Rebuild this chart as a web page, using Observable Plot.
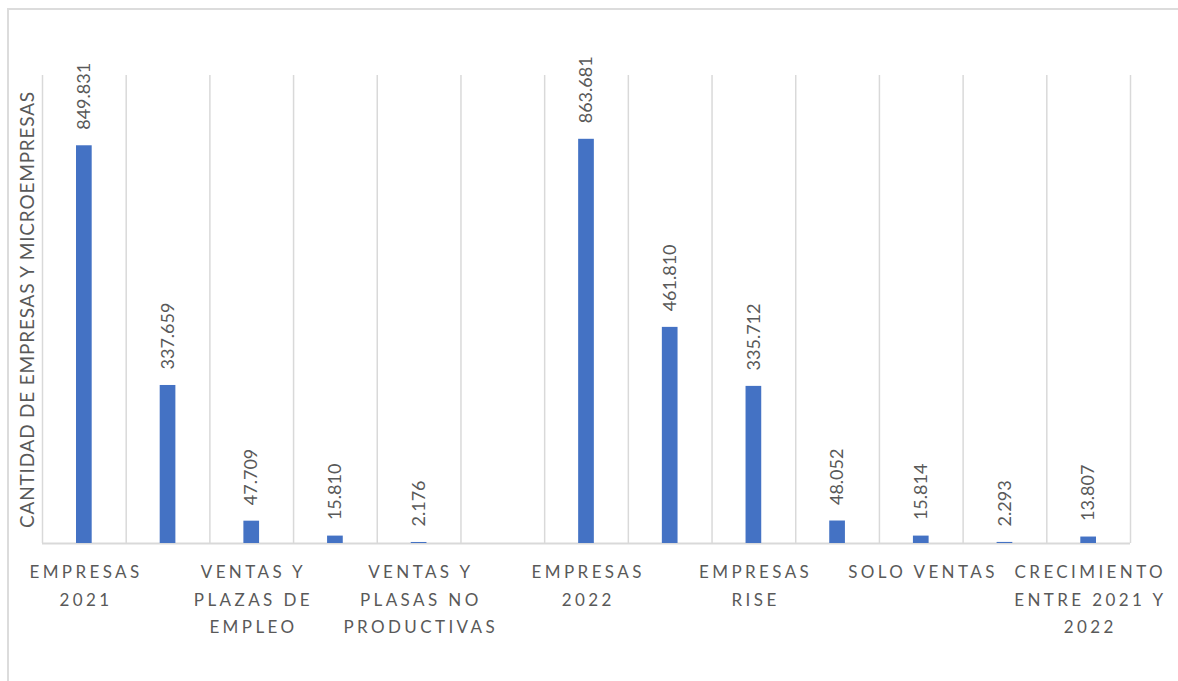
<!DOCTYPE html>
<html>
<head>
<meta charset="utf-8">
<script src="https://cdn.jsdelivr.net/npm/d3@7"></script>
<script src="https://cdn.jsdelivr.net/npm/@observablehq/plot@0.6"></script>
<style>
  html, body { margin: 0; padding: 0; background: #fff; }
  #wrap { position: relative; width: 1178px; height: 681px; overflow: hidden; }
  #border { position: absolute; left: 7px; top: 8px; right: -10px; bottom: -10px;
            border-top: 2px solid #dcdcdc; border-left: 2px solid #dcdcdc; }
  #chart { position: absolute; left: 0; top: 0; }
</style>
</head>
<body>
<div id="wrap"><div id="border"></div><div id="chart"></div></div>
<script>
// Categories (unique keys), shown tick labels (every other one, as in the source), values
const categories = [
  "EMPRESAS 2021", "EMPRESAS RISE 2021", "VENTAS Y PLAZAS DE EMPLEO 2021", "SOLO VENTAS 2021",
  "VENTAS Y PLASAS NO PRODUCTIVAS 2021", "(vacío)", "EMPRESAS 2022", "MICROEMPRESAS 2022",
  "EMPRESAS RISE 2022", "VENTAS Y PLAZAS DE EMPLEO 2022", "SOLO VENTAS 2022",
  "VENTAS Y PLASAS NO PRODUCTIVAS 2022", "CRECIMIENTO ENTRE 2021 Y 2022"
];
const tickLabels = [
  "EMPRESAS\n2021", "", "VENTAS Y\nPLAZAS DE\nEMPLEO", "", "VENTAS Y\nPLASAS NO\nPRODUCTIVAS", "",
  "EMPRESAS\n2022", "", "EMPRESAS\nRISE", "", "SOLO VENTAS", "", "CRECIMIENTO\nENTRE 2021 Y\n2022"
];
const values = [849831, 337659, 47709, 15810, 2176, null, 863681, 461810, 335712, 48052, 15814, 2293, 13807];
const yTitle = "CANTIDAD DE EMPRESAS Y MICROEMPRESAS";
const yDomain = [0, 1000000];

const data = categories.map((c, i) => ({i, category: c, label: tickLabels[i], value: values[i]}));
const bars = data.filter(d => d.value != null);
const ticks = data.filter(d => d.label !== "");
const boundaries = d3.range(categories.length + 1);

const fmt = d3.formatLocale({decimal: ",", thousands: ".", grouping: [3], currency: ["$", ""]}).format(",d");
const font = "Lato, 'Open Sans', sans-serif";
const grey = "#595959";

const chart = Plot.plot({
  width: 1178,
  height: 681,
  marginLeft: 42,
  marginRight: 48,
  marginTop: 75,
  marginBottom: 138,
  style: {fontFamily: font, background: "transparent"},
  x: {type: "linear", domain: [0, categories.length], axis: null},
  y: {domain: yDomain, axis: null},
  marks: [
    Plot.ruleX(boundaries, {x: d => d, stroke: "#d9d9d9", strokeWidth: 1.5}),
    Plot.ruleY([0], {stroke: "#d9d9d9", strokeWidth: 2}),
    Plot.rectY(bars, {x1: "i", x2: d => d.i + 1, y: "value", fill: "#4472C4", insetLeft: 34, insetRight: 34}),
    Plot.text(bars, {x: d => d.i + 0.5, y: "value", text: d => fmt(d.value), rotate: -90,
      textAnchor: "start", dy: -16, fill: grey, fontSize: 18, fontFamily: font}),
    Plot.text(ticks, {x: d => d.i + 0.5, y: 0, text: "label", lineAnchor: "top", lineHeight: 1.6,
      dy: 15.5, dx: 1.7, fill: grey, fontSize: 17, fontFamily: font}),
    Plot.text([yTitle], {frameAnchor: "left", rotate: -90, textAnchor: "middle", dx: -15,
      fill: grey, fontSize: 19, fontFamily: font})
  ]
});
const textGroups = chart.querySelectorAll('g[aria-label="text"]');
if (textGroups[1]) textGroups[1].setAttribute("letter-spacing", "3.4");
if (textGroups[2]) textGroups[2].setAttribute("letter-spacing", "0.8");
document.getElementById("chart").appendChild(chart);
</script>
</body>
</html>
